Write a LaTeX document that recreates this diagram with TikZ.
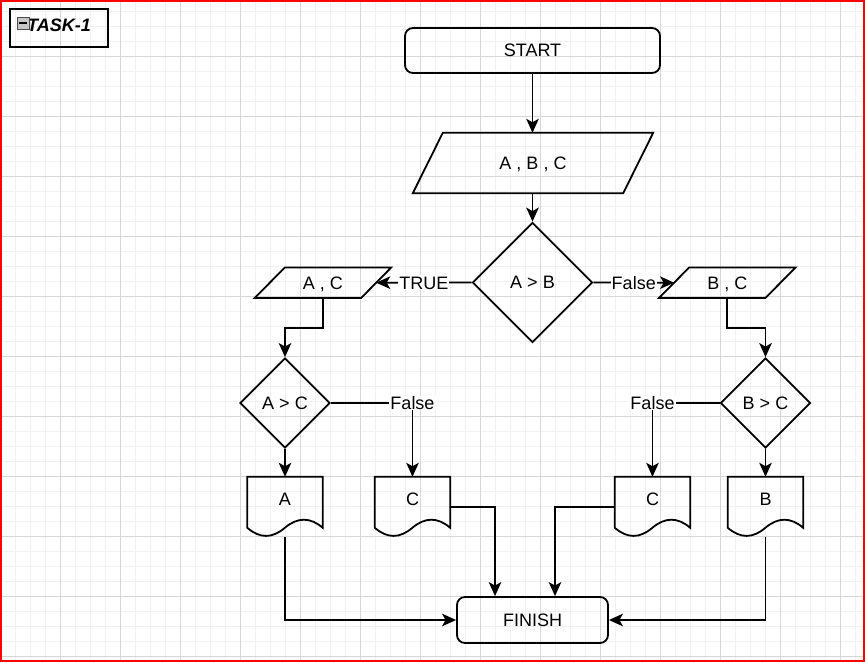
\documentclass[tikz,border=0pt]{standalone}
\usepackage{fontspec}
\setmainfont{Liberation Sans}
\usetikzlibrary{shapes.geometric,arrows.meta}
\definecolor{minorgrid}{RGB}{241,241,244}
\definecolor{majorgrid}{RGB}{214,214,214}
\definecolor{frame}{RGB}{255,0,0}
\newcommand\paradraw[2]{\draw[shapeline] ([xshift=#2]#1.north west) -- (#1.north east) -- ([xshift=-#2]#1.south east) -- (#1.south west) -- cycle;}
\newcommand\docdraw[1]{\draw[shapeline] (#1.north west) -- (#1.north east) -- ([shift={(0,51)}]#1.north east)
 .. controls ([shift={(-12.5,40.2)}]#1.north east) and ([shift={(-25,40.2)}]#1.north east) .. ([shift={(37.5,51)}]#1.north west)
 .. controls ([shift={(25,61.8)}]#1.north west) and ([shift={(12.5,61.8)}]#1.north west) .. ([shift={(0,51)}]#1.north west) -- cycle;}
\tikzset{
  shapeline/.style={line width=1.8pt, line join=miter},
  base/.style={inner sep=0pt, font=\fontsize{18}{21}\selectfont, text height=12.9pt, text depth=0pt},
  terminal/.style={base, draw, line width=1.8pt, rounded corners=8pt, rectangle},
  para/.style={base, rectangle},
  decide/.style={base, draw, line width=1.8pt, diamond, aspect=1},
  docnode/.style={base, rectangle, minimum width=75pt, minimum height=60pt, text depth=16.7pt},
  arr/.style={line width=1.8pt, -{Stealth[length=14pt,width=12.5pt,inset=3.5pt]}},
  lbl/.style={base, fill=white, inner sep=1pt},
}
\begin{document}
\begin{tikzpicture}[x=1pt,y=-1pt]
\useasboundingbox (0,0) rectangle (865,662);
% grid
\draw[minorgrid, line width=0.8pt] foreach \x in {15,30,...,860} {(\x,0) -- (\x,662)};
\draw[minorgrid, line width=0.8pt] foreach \y in {11,26,...,660} {(0,\y) -- (865,\y)};
\draw[majorgrid, line width=0.8pt] foreach \x in {60,120,...,840} {(\x,0) -- (\x,662)};
\draw[majorgrid, line width=0.8pt] foreach \y in {56,116,...,656} {(0,\y) -- (865,\y)};
\draw[frame, line width=2pt] (1,1) rectangle (864,661);

% task box
\node[draw, line width=1.5pt, rectangle, minimum width=98pt, minimum height=38pt, inner sep=0pt,
      font=\fontsize{18}{21}\selectfont\bfseries\itshape, text height=12.9pt, text depth=5pt] (task) at (59,28) {TASK-1};
\draw[fill=gray!45, draw=gray!60!black, line width=0.6pt] (17,17) rectangle (29,29);
\draw[line width=1.3pt] (19,23) -- (27,23);

% nodes
\node[terminal, minimum width=255pt, minimum height=45pt] (start) at (532.5,50.5) {START};
\node[para, minimum width=240pt, minimum height=60pt] (abc) at (533,163) {A , B , C};
\paradraw{abc}{30pt}
\node[decide, minimum width=120pt, minimum height=120pt] (dAB) at (532.5,282.5) {A > B};
\node[para, minimum width=136pt, minimum height=30pt] (ac) at (323,282.7) {A , C};
\paradraw{ac}{30pt}
\node[para, minimum width=136pt, minimum height=30pt] (bc) at (727.3,282.7) {B , C};
\paradraw{bc}{30pt}
\node[decide, minimum width=90pt, minimum height=90pt] (dAC) at (285,403) {A > C};
\node[decide, minimum width=90pt, minimum height=90pt] (dBC) at (765.5,403) {B > C};
\node[docnode] (docA) at (285,507) {A};
\docdraw{docA}
\node[docnode] (docC1) at (412.5,507) {C};
\docdraw{docC1}
\node[docnode] (docC2) at (652.5,507) {C};
\docdraw{docC2}
\node[docnode] (docB) at (765.5,507) {B};
\docdraw{docB}
\node[terminal, minimum width=151pt, minimum height=46pt] (finish) at (532.5,620) {FINISH};

% connectors
\draw[arr] (start.south) -- (start.south |- abc.north);
\draw[arr] (dAB.north |- abc.south) -- (dAB.north);
\draw[arr] (dAB.west) -- node[lbl] {TRUE} ([xshift=-15pt]ac.east);
\draw[arr] (dAB.east) -- node[lbl] {False} ([xshift=15pt]bc.west);
\draw[arr] (ac.south) -- ++(0,30) -| (dAC.north);
\draw[arr] (bc.south) -- ++(0,30) -| (dBC.north);
\draw[arr] (dAC.east) -| node[lbl, pos=0.5] {False} (docC1.north);
\draw[arr] (dBC.west) -| node[lbl, pos=0.5] {False} (docC2.north);
\draw[arr] (dAC.south) -- (docA.north);
\draw[arr] (dBC.south) -- (docB.north);
\draw[arr] (docA.south) |- (finish.west);
\draw[arr] (docB.south) |- (finish.east);
\draw[arr] (docC1.east) -| ([xshift=-37.5pt]finish.north);
\draw[arr] (docC2.west) -| ([xshift=22.5pt]finish.north);
\end{tikzpicture}
\end{document}
